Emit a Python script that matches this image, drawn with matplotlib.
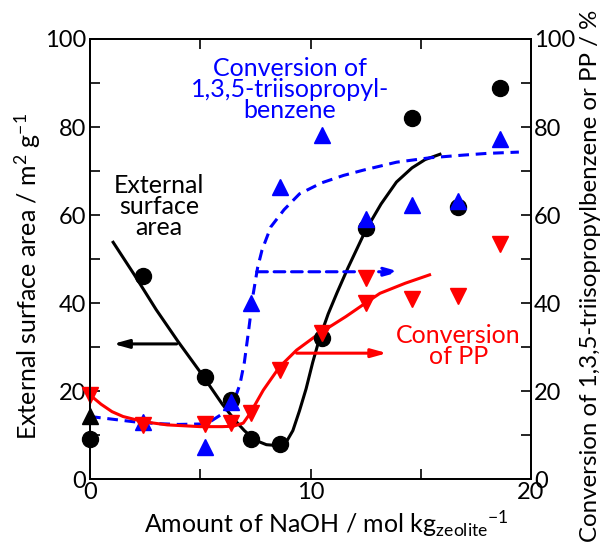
import matplotlib
matplotlib.use('Agg')
import matplotlib.pyplot as plt
from matplotlib.ticker import FuncFormatter

plt.rcParams['font.family'] = ['Lato', 'DejaVu Sans']
plt.rcParams['mathtext.fontset'] = 'custom'
plt.rcParams['mathtext.rm'] = 'Lato'
plt.rcParams['mathtext.it'] = 'Lato'

# ---- data ----
area_x = [0, 2.4, 5.2, 6.4, 7.3, 8.6, 10.5, 12.5, 14.6, 16.7, 18.6]
area_y = [9.1, 46.1, 23.2, 18.0, 9.0, 8.0, 32.0, 57.0, 82.1, 61.9, 88.9]

tipb_x0 = [0]
tipb_y0 = [14.4]
tipb_x = [2.4, 5.2, 6.4, 7.3, 8.6, 10.5, 12.5, 14.6, 16.7, 18.6]
tipb_y = [13.0, 7.3, 17.6, 39.9, 66.4, 78.2, 59.2, 62.3, 63.2, 77.2]

pp_x = [0, 2.4, 5.2, 6.4, 7.3, 8.6, 10.5, 12.5, 12.5, 14.6, 16.7, 18.6]
pp_y = [19.1, 12.3, 12.6, 12.7, 14.9, 24.8, 33.1, 45.6, 39.9, 40.8, 41.6, 53.3]

# fitted trend curves
area_fit_x = [1.05, 2.0, 3.0, 4.0, 5.0, 6.0, 6.6, 7.0, 7.5, 8.0, 8.5, 8.9, 9.2, 9.5,
              9.8, 10.1, 10.4, 10.8, 11.2, 11.7, 12.5, 13.2, 13.9, 14.6, 15.2, 15.87]
area_fit_y = [53.8, 46.5, 38.5, 31.2, 24.3, 17.0, 13.2, 11.0, 8.8, 7.8, 7.6, 8.4, 11.0, 15.5,
              20.5, 26.5, 31.8, 37.5, 42.3, 48.0, 56.5, 62.5, 67.5, 70.7, 72.6, 73.8]

tipb_fit_x = [0, 1.0, 2.0, 3.0, 4.0, 5.0, 5.5, 6.0, 6.5, 6.8, 7.0, 7.2, 7.4, 7.6, 7.8,
              8.2, 8.8, 9.5, 10.5, 11.5, 12.4, 13.9, 15.4, 16.9, 18.0, 19.45]
tipb_fit_y = [14.2, 13.6, 13.0, 12.6, 12.4, 12.5, 13.2, 14.8, 17.3, 21.5, 26.5, 34.0, 42.0, 48.0, 52.0,
              57.3, 61.2, 64.8, 67.3, 69.0, 70.2, 72.0, 73.0, 73.6, 74.0, 74.3]

pp_fit_x = [0, 0.5, 1.0, 1.5, 2.45, 3.5, 5.0, 6.0, 6.5, 6.95, 7.26, 7.86, 8.6, 9.37,
            10.4, 11.6, 12.5, 13.15, 14.3, 15.4]
pp_fit_y = [19.1, 17.0, 15.3, 14.2, 13.0, 12.3, 11.9, 11.9, 12.0, 12.7, 14.9, 20.2, 25.5, 29.3,
            33.1, 36.9, 40.0, 42.2, 44.5, 46.4]

x_ticks = [0, 5, 10, 15, 20]
y_ticks = [0, 10, 20, 30, 40, 50, 60, 70, 80, 90, 100]

BLUE = '#0000FF'
RED = '#FF0000'

fig = plt.figure(figsize=(6.14, 5.46), dpi=100)
ax = fig.add_axes([90 / 614, 67 / 546, 441 / 614, 440 / 546])
ax2 = ax.twinx()

ax.set_xlim(0, 20)
ax.set_ylim(0, 100)
ax2.set_ylim(0, 100)

# curves
ax.plot(area_fit_x, area_fit_y, color='black', lw=2.2, zorder=3)
ax.plot(tipb_fit_x, tipb_fit_y, color=BLUE, lw=2.2, ls=(0, (3.5, 2.2)), zorder=3)
ax.plot(pp_fit_x, pp_fit_y, color=RED, lw=2.2, zorder=3)

# markers
ax.plot(area_x, area_y, 'o', color='black', ms=11.5, zorder=4, clip_on=False)
ax.plot(tipb_x0, tipb_y0, '^', color='black', ms=11, zorder=5, clip_on=False)
ax.plot(tipb_x, tipb_y, '^', color=BLUE, ms=11, zorder=5, clip_on=False)
ax.plot(pp_x, pp_y, 'v', color=RED, ms=11, zorder=6, clip_on=False)

# arrows
ax.annotate('', xy=(1.05, 30.7), xytext=(3.93, 30.7),
            arrowprops=dict(arrowstyle='-|>,head_length=0.9,head_width=0.25', color='black', lw=2.2,
                            shrinkA=0, shrinkB=0), zorder=3)
ax.annotate('', xy=(14.06, 47.1), xytext=(7.56, 47.1),
            arrowprops=dict(arrowstyle='-|>,head_length=0.9,head_width=0.25', color=BLUE, lw=2.2,
                            ls=(0, (3.5, 2.2)), shrinkA=0, shrinkB=0), zorder=3)
ax.annotate('', xy=(13.47, 28.6), xytext=(9.37, 28.6),
            arrowprops=dict(arrowstyle='-|>,head_length=0.9,head_width=0.25', color=RED, lw=2.2,
                            shrinkA=0, shrinkB=0), zorder=3)

# texts
ax.text(9.07, 88.5, 'Conversion of\n1,3,5-triisopropyl-\nbenzene', color=BLUE, fontsize=18,
        ha='center', va='center', linespacing=0.9)
ax.text(3.13, 62.0, 'External\nsurface\narea', color='black', fontsize=18,
        ha='center', va='center', linespacing=0.9)
ax.text(16.7, 30.2, 'Conversion\nof PP', color=RED, fontsize=18,
        ha='center', va='center', linespacing=0.9)

# ticks
ax.set_xticks(x_ticks)
ax.xaxis.set_major_formatter(FuncFormatter(lambda v, p: f'{v:.0f}' if v % 10 == 0 else ''))
ax.set_yticks(y_ticks)
ax.yaxis.set_major_formatter(FuncFormatter(lambda v, p: f'{v:.0f}' if v % 20 == 0 else ''))
ax2.set_yticks(y_ticks)
ax2.yaxis.set_major_formatter(FuncFormatter(lambda v, p: f'{v:.0f}' if v % 20 == 0 else ''))

ax.tick_params(axis='both', direction='in', length=7, width=1.2, labelsize=17, top=True, pad=3)
ax.tick_params(axis='x', pad=2)
ax2.tick_params(axis='y', direction='in', length=7, width=1.2, labelsize=17, pad=2)

for a in (ax, ax2):
    for s in a.spines.values():
        s.set_linewidth(1.3)

ax.set_xlabel('Amount of NaOH / mol kg$_{\\mathrm{zeolite}}$$^{-1}$', fontsize=18)
ax.set_ylabel('External surface area / m$^{2}$ g$^{-1}$', fontsize=18)
ax2.set_ylabel('Conversion of 1,3,5-triisopropylbenzene or PP / %', fontsize=17.3)
ax.xaxis.set_label_coords(0.535, -0.066)
ax.yaxis.set_label_coords(-0.107, 0.461)
ax2.yaxis.set_label_coords(1.111, 0.461)

fig.savefig('out.png', dpi=100)
